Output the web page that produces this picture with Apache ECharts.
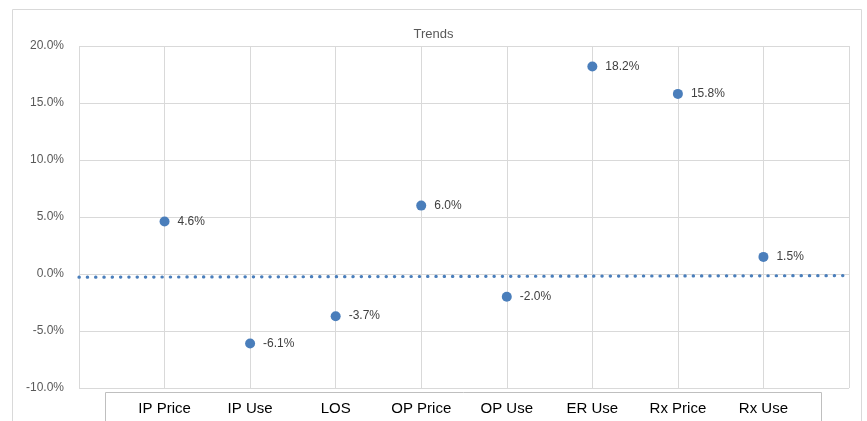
<!DOCTYPE html>
<html>
<head>
<meta charset="utf-8">
<script src="https://cdn.jsdelivr.net/npm/echarts@6/dist/echarts.min.js"></script>
<style>
  html, body { margin: 0; padding: 0; background: #fff; }
  #chart { width: 867px; height: 421px; }
</style>
</head>
<body>
<div id="chart"></div>
<script>
// data
var categories = ["IP Price", "IP Use", "LOS", "OP Price", "OP Use", "ER Use", "Rx Price", "Rx Use"];
var trends = [4.6, -6.1, -3.7, 6.0, -2.0, 18.2, 15.8, 1.5];
var trendLine = [-0.28, -0.14]; // dotted line, left end and right end

var font = "Liberation Sans";
var chart = echarts.init(document.getElementById("chart"));

var points = trends.map(function (v, i) { return [i + 1, v]; });

chart.setOption({
    animation: false,
    textStyle: { fontFamily: font },
    title: {
        text: "Trends",
        left: "center",
        top: 23,
        textStyle: { fontSize: 13, fontWeight: "normal", color: "#595959", fontFamily: font }
    },
    grid: { left: 79, top: 46, right: 18, bottom: 33 },
    xAxis: {
        type: "value",
        min: 0,
        max: categories.length + 1,
        interval: 1,
        axisLine: { show: false },
        axisTick: { show: false },
        splitLine: { show: true, lineStyle: { color: "#d9d9d9", width: 1 } },
        axisLabel: {
            margin: 13,
            fontSize: 15,
            color: "#000",
            formatter: function (v) { return categories[v - 1] || ""; }
        }
    },
    yAxis: {
        type: "value",
        min: -10,
        max: 20,
        interval: 5,
        axisLine: { show: false },
        axisTick: { show: false },
        splitLine: { show: true, lineStyle: { color: "#d9d9d9", width: 1 } },
        axisLabel: {
            margin: 15,
            fontSize: 12,
            color: "#595959",
            formatter: function (v) { return v.toFixed(1) + "%"; }
        }
    },
    graphic: [
        {
            type: "rect",
            shape: { x: 12.5, y: 9.5, width: 849, height: 430 },
            style: { fill: null, stroke: "#d9d9d9", lineWidth: 1 },
            silent: true
        },
        {
            type: "rect",
            shape: { x: 105.5, y: 392.5, width: 716, height: 40 },
            style: { fill: null, stroke: "#bfbfbf", lineWidth: 1 },
            silent: true
        }
    ],
    series: [
        {
            type: "line",
            data: [[0, trendLine[0]], [categories.length + 1, trendLine[1]]],
            showSymbol: false,
            lineStyle: { color: "#4a7ebb", width: 3.2, type: [0.3, 8], cap: "round" },
            z: 3
        },
        {
            type: "scatter",
            data: points,
            symbolSize: 10,
            itemStyle: { color: "#4a7ebb", opacity: 1 },
            label: {
                show: true,
                position: "right",
                distance: 8,
                fontSize: 12,
                color: "#404040",
                formatter: function (p) { return p.value[1].toFixed(1) + "%"; }
            },
            z: 4
        }
    ]
});
</script>
</body>
</html>
